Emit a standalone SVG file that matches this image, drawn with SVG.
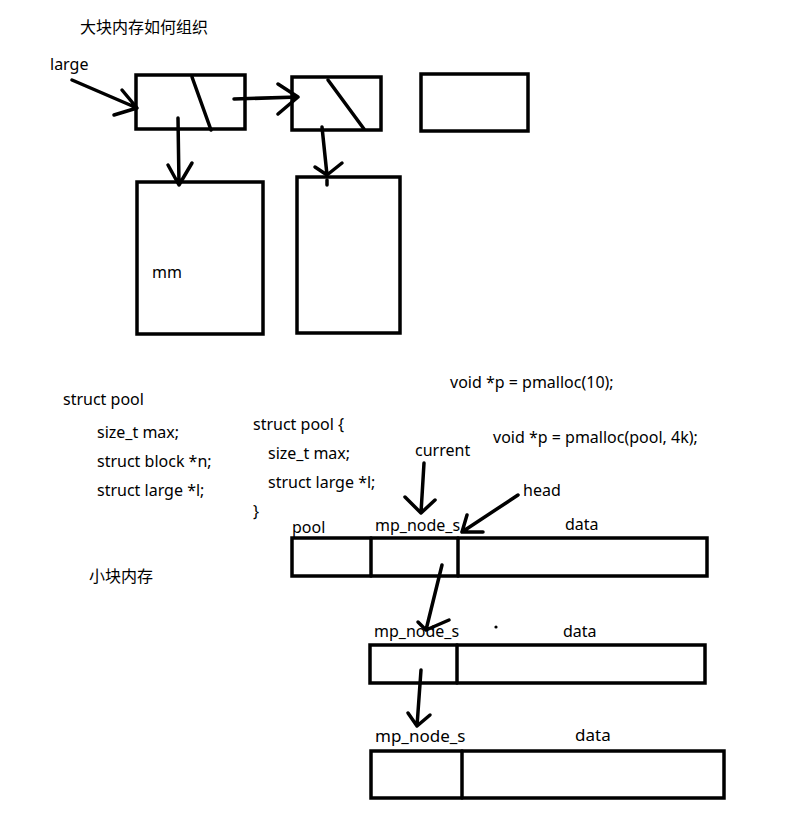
<svg xmlns="http://www.w3.org/2000/svg" width="806" height="824" viewBox="0 0 806 824">
<defs>
<style>
text{font-family:"Noto Sans","Noto Sans CJK SC",sans-serif;font-size:16px;fill:#000}
.box{fill:none;stroke:#000;stroke-width:3.5}
.ln{fill:none;stroke:#000;stroke-width:3.5;stroke-linecap:round;stroke-linejoin:round}
.big{font-size:17px}
</style>
</defs>
<rect width="806" height="824" fill="#fff"/>
<text x="80" y="33">大块内存如何组织</text>
<text x="50" y="70">large</text>

<g id="large1"><rect class="box" x="136" y="75" width="109" height="54"/><line class="ln" x1="192" y1="77" x2="211" y2="130"/></g>
<g id="large2"><rect class="box" x="292" y="77" width="89" height="53"/><line class="ln" x1="328" y1="80" x2="364" y2="129"/></g>
<g id="large3"><rect class="box" x="421" y="74" width="107" height="57"/></g>
<g id="mem1"><rect class="box" x="137" y="182" width="126" height="152"/><text x="152" y="278">mm</text></g>
<g id="mem2"><rect class="box" x="297" y="177" width="103" height="156"/><line class="ln" x1="327" y1="180" x2="327" y2="185"/></g>

<text x="63" y="405">struct pool</text>
<text x="97" y="438">size_t max;</text>
<text x="97" y="467">struct block *n;</text>
<text x="97" y="496">struct large *l;</text>
<text x="89" y="582">小块内存</text>

<text x="253" y="430">struct pool {</text>
<text x="268" y="459">size_t max;</text>
<text x="268" y="488">struct large *l;</text>
<text x="253" y="517">}</text>
<text x="450" y="388">void *p = pmalloc(10);</text>
<text x="493" y="443">void *p = pmalloc(pool, 4k);</text>
<text x="415" y="456">current</text>
<text x="523" y="496">head</text>

<g id="row1">
<text x="292" y="533">pool</text>
<text x="375" y="531">mp_node_s</text>
<text x="565" y="530">data</text>
<rect class="box" x="292" y="538" width="415" height="38"/>
<line class="ln" x1="371" y1="538" x2="371" y2="576"/>
<line class="ln" x1="458" y1="538" x2="458" y2="576"/>
</g>
<g id="row2">
<text x="374" y="637">mp_node_s</text>
<text x="563" y="637">data</text>
<circle cx="496" cy="627" r="1.6" fill="#000"/>
<rect class="box" x="370" y="645" width="335" height="38"/>
<line class="ln" x1="457" y1="645" x2="457" y2="683"/>
</g>
<g id="row3">
<text class="big" x="375" y="742">mp_node_s</text>
<text class="big" x="575" y="741">data</text>
<rect class="box" x="371" y="751" width="353" height="47"/>
<line class="ln" x1="462" y1="751" x2="462" y2="798"/>
</g>

<g id="connectors">
<path class="ln" d="M72 80 L137 108 M122 90 L137 108 L114 115"/>
<path class="ln" d="M234 99 L298 97 M278 84 L298 97 L278 114"/>
<path class="ln" d="M178 118 L179 185 M168 165 L179 185 L192 163"/>
<path class="ln" d="M322 127 L327 175 M315 167 L327 175 L342 163"/>
<path class="ln" d="M424 463 L421 513 M405 497 L421 513 L435 500"/>
<path class="ln" d="M518 495 L462 532 M467 515 L462 532 L483 532"/>
<path class="ln" d="M442 565 L426 630 M418 622 L426 630 L449 620"/>
<path class="ln" d="M421 670 L417 726 M408 713 L417 726 L430 715"/>
</g>
</svg>
